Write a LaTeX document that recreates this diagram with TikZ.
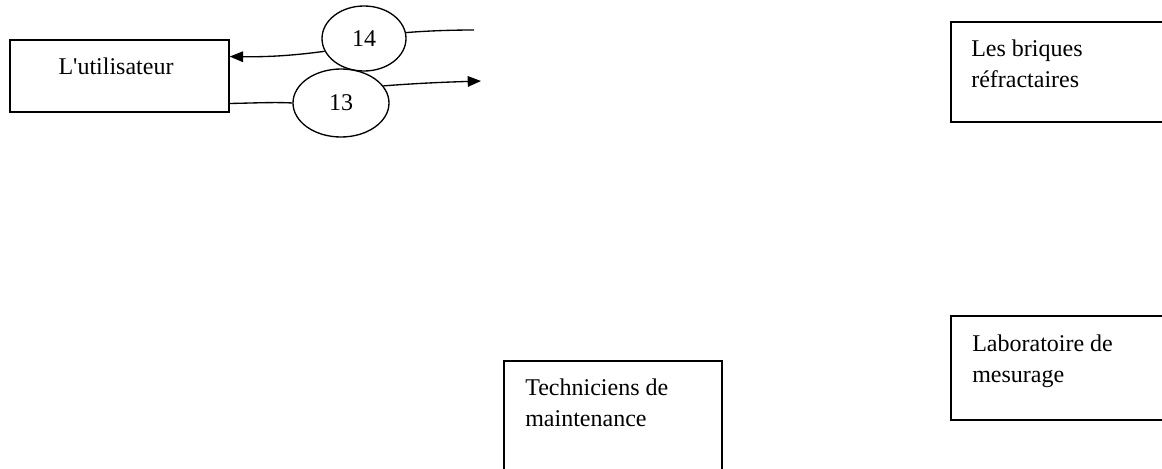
\documentclass[tikz,border=0pt]{standalone}
\usepackage{fontspec}
\setmainfont{Liberation Serif}
\usetikzlibrary{arrows.meta,shapes.geometric}
\begin{document}
\begin{tikzpicture}[x=0.75pt,y=-0.75pt,
  box/.style={draw, line width=1.1pt, rectangle, inner sep=0pt},
  flow/.style={draw, ellipse, line width=1pt, inner sep=0pt,
    font=\fontsize{18}{21}\selectfont},
  link/.style={line width=1pt},
  tip/.style={-{Triangle[length=10pt,width=8pt]}},
  lbl/.style={font=\fontsize{18}{23}\selectfont, align=left,
    anchor=base west, inner sep=0pt}]
  \useasboundingbox (0,0) rectangle (1162,468);
  \clip (0,0) rectangle (1162,468);

  % external entities (the base anchor of a two-line label is its last line)
  \node[box, minimum width=164.25pt, minimum height=54pt] (user) at (119.5,76) {};
  \node[font=\fontsize{18}{20.5}\selectfont, anchor=base, inner sep=0pt] (usertxt) at (116,74) {L\textquotesingle utilisateur};

  \node[box, minimum width=164.25pt, minimum height=75pt] (briq) at (1060.5,72) {};
  \node[lbl] (briqtxt) at (971,87) {Les briques\\réfractaires};

  \node[box, minimum width=164.25pt, minimum height=78pt] (labo) at (1060.5,368) {};
  \node[lbl] (labotxt) at (972,382) {Laboratoire de\\mesurage};

  \node[box, minimum width=163.5pt, minimum height=90pt] (tech) at (613,421) {};
  \node[lbl] (techtxt) at (525,426) {Techniciens de\\maintenance};

  % data flows
  \node[flow, minimum width=63pt, minimum height=48.75pt] (f14) at (364,38.5) {14};
  \node[flow, minimum width=72pt, minimum height=51pt] (f13) at (341,103) {13};

  \coordinate (in14) at (474,30);
  \coordinate (out13) at (481,81);

  \draw[link] (in14) .. controls (450,30) and (425,31) .. (f14.8);
  \draw[link,tip] (f14.198) .. controls (290,56) and (265,57) .. (user.10);

  \draw[link] (user.-14) .. controls (255,103) and (275,102) .. (f13.180);
  \draw[link,tip] (f13.22) .. controls (420,83) and (450,82) .. (out13);
\end{tikzpicture}
\end{document}
